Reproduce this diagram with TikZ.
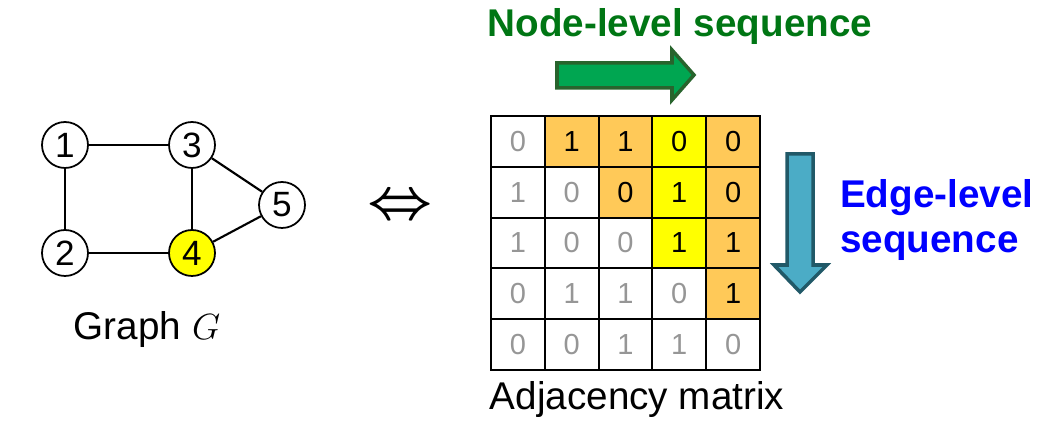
\documentclass[tikz,border=0pt]{standalone}
\usepackage{bm}
\usepackage{fontspec}
\setmainfont{Liberation Sans}
\usetikzlibrary{positioning}
\definecolor{cellorange}{RGB}{255,201,88}
\definecolor{cellyellow}{RGB}{255,255,0}
\definecolor{digitgray}{RGB}{150,150,150}
\definecolor{nodegreen}{RGB}{0,118,20}
\definecolor{edgeblue}{RGB}{0,0,255}
\definecolor{greenfill}{RGB}{0,166,81}
\definecolor{greenline}{RGB}{40,100,45}
\definecolor{bluefill}{RGB}{75,172,198}
\definecolor{blueline}{RGB}{33,89,104}

\begin{document}
\begin{tikzpicture}[x=0.02cm, y=-0.02cm,
  vertex/.style={circle, draw, line width=1pt, minimum size=0.92cm, inner sep=0pt, font=\fontsize{20}{20}\selectfont},
  edge/.style={line width=1.2pt},
  cell/.style={rectangle, draw, line width=1.1pt, minimum width=1.076cm, minimum height=1.016cm, inner sep=0pt, font=\fontsize{16.5}{16.5}\selectfont},
  caption/.style={font=\fontsize{22}{26}\selectfont}]
  \useasboundingbox (0,0) rectangle (1052,431);
  % graph G
  \node[vertex] (v1) at (65,145) {1};
  \node[vertex] (v3) at (192,145) {3};
  \node[vertex] (v2) at (65,253) {2};
  \node[vertex, fill=cellyellow] (v4) at (192,253) {4};
  \node[vertex] (v5) at (282,205) {5};
  \draw[edge] (v1) -- (v3); \draw[edge] (v1) -- (v2); \draw[edge] (v2) -- (v4);
  \draw[edge] (v3) -- (v4); \draw[edge] (v3) -- (v5); \draw[edge] (v4) -- (v5);
  \node[caption] (gcap) at (147,330) {Graph $G$};
  \node[font=\fontsize{24}{24}\selectfont] (equiv) at (400,207) {\scalebox{1.3}{$\bm{\Leftrightarrow}$}};
  % adjacency matrix
  \foreach \rowvals [count=\r] in {{0,1,1,0,0},{1,0,0,1,0},{1,0,0,1,1},{0,1,1,0,1},{0,0,1,1,0}}
    \foreach \v [count=\c] in \rowvals {
      \ifnum\c>\r \def\cellcol{cellorange}\def\txtcol{black}\else\def\cellcol{white}\def\txtcol{digitgray}\fi
      \ifnum\c=4 \ifnum\r<4 \def\cellcol{cellyellow}\fi\fi
      \node[cell, fill=\cellcol, text=\txtcol] (m-\r-\c) at ({491+53.8*(\c-0.5)}, {116+50.8*(\r-0.5)}) {\v};
    }
  \node[caption] (acap) at (637,400) {Adjacency matrix};
  % sequence arrows
  \node[caption, font=\fontsize{22}{26}\selectfont\bfseries, text=nodegreen] (ntext) at (680,27) {Node-level sequence};
  \filldraw[fill=greenfill, draw=greenline, line width=2pt, line join=miter]
    (557,63) -- (672,63) -- (672,50) -- (694,75) -- (672,100) -- (672,88) -- (557,88) -- cycle;
  \filldraw[fill=bluefill, draw=blueline, line width=2pt, line join=miter]
    (787,154) -- (813,154) -- (813,265) -- (827,265) -- (800,292) -- (774,265) -- (787,265) -- cycle;
  \node[caption, font=\fontsize{22}{26}\selectfont\bfseries, text=edgeblue, align=left, anchor=west] (etext) at (834,220) {Edge-level\\sequence};
\end{tikzpicture}
\end{document}
